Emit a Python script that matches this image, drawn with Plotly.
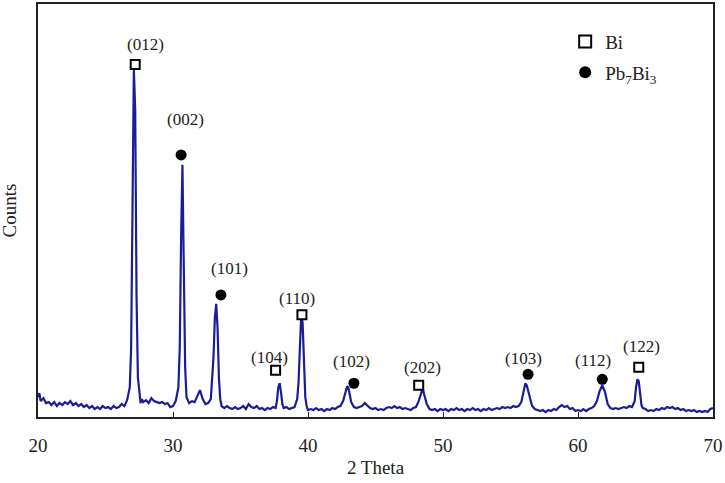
import plotly.graph_objects as go

# ---- XRD pattern (2 Theta, counts) ----
two_theta = [20.0, 20.1, 20.2, 20.4, 20.6, 20.8, 21.0, 21.2, 21.4, 21.6, 21.8, 22.0, 22.2, 22.4, 22.6, 22.8,
             23.0, 23.2, 23.4, 23.6, 23.8, 24.0, 24.2, 24.4, 24.6, 24.8, 25.0, 25.2, 25.4, 25.6, 25.8, 26.0,
             26.2, 26.4, 26.6, 26.8, 26.9, 27.0, 27.1, 27.2, 27.3, 27.4, 27.5, 27.6, 27.7, 27.8, 28.0, 28.2,
             28.4, 28.6, 28.8, 29.0, 29.2, 29.4, 29.6, 29.8, 30.0, 30.2, 30.4, 30.5, 30.6, 30.7, 30.8, 30.9,
             31.0, 31.2, 31.4, 31.6, 31.8, 32.0, 32.2, 32.4, 32.6, 32.8, 33.0, 33.1, 33.2, 33.3, 33.4, 33.5,
             33.6, 33.8, 34.0, 34.2, 34.4, 34.6, 34.8, 35.0, 35.2, 35.4, 35.6, 35.8, 36.0, 36.2, 36.4, 36.6,
             36.8, 37.0, 37.2, 37.4, 37.6, 37.7, 37.8, 37.9, 38.0, 38.1, 38.2, 38.4, 38.6, 38.8, 39.0, 39.2,
             39.3, 39.4, 39.5, 39.6, 39.7, 39.8, 39.9, 40.0, 40.2, 40.4, 40.6, 40.8, 41.0, 41.2, 41.4, 41.6,
             41.8, 42.0, 42.2, 42.4, 42.6, 42.8, 42.9, 43.0, 43.1, 43.2, 43.4, 43.6, 43.8, 44.0, 44.2, 44.4,
             44.6, 44.8, 45.0, 45.2, 45.4, 45.6, 45.8, 46.0, 46.2, 46.4, 46.6, 46.8, 47.0, 47.2, 47.4, 47.6,
             47.8, 48.0, 48.2, 48.4, 48.5, 48.6, 48.8, 49.0, 49.2, 49.4, 49.6, 49.8, 50.0, 50.2, 50.4, 50.6,
             50.8, 51.0, 51.2, 51.4, 51.6, 51.8, 52.0, 52.2, 52.4, 52.6, 52.8, 53.0, 53.2, 53.4, 53.6, 53.8,
             54.0, 54.2, 54.4, 54.6, 54.8, 55.0, 55.2, 55.4, 55.6, 55.8, 56.0, 56.1, 56.2, 56.4, 56.6, 56.8,
             57.0, 57.2, 57.4, 57.6, 57.8, 58.0, 58.2, 58.4, 58.6, 58.8, 59.0, 59.2, 59.4, 59.6, 59.8, 60.0,
             60.2, 60.4, 60.6, 60.8, 61.0, 61.2, 61.4, 61.6, 61.8, 62.0, 62.2, 62.4, 62.6, 62.8, 63.0, 63.2,
             63.4, 63.6, 63.8, 64.0, 64.2, 64.3, 64.4, 64.5, 64.6, 64.7, 64.8, 65.0, 65.2, 65.4, 65.6, 65.8,
             66.0, 66.2, 66.4, 66.6, 66.8, 67.0, 67.2, 67.4, 67.6, 67.8, 68.0, 68.2, 68.4, 68.6, 68.8, 69.0,
             69.2, 69.4, 69.6, 69.8, 70.0]
counts = [200, 240, 160, 190, 140, 150, 120, 150, 110, 140, 120, 150, 130, 160, 120, 140,
          110, 130, 100, 120, 90, 110, 80, 100, 80, 110, 90, 100, 80, 110, 90, 100,
          130, 110, 170, 300, 700, 1800, 3500, 3100, 1200, 400, 220, 140, 180, 150, 170, 140,
          190, 160, 150, 140, 150, 130, 140, 100, 110, 160, 300, 700, 1800, 2540, 1500, 500,
          200, 140, 160, 150, 210, 270, 180, 130, 140, 180, 600, 1000, 1140, 900, 400, 180,
          110, 90, 110, 90, 80, 100, 80, 90, 110, 80, 130, 100, 90, 110, 80, 90,
          70, 90, 80, 100, 90, 160, 300, 340, 250, 130, 90, 100, 80, 90, 100, 180,
          350, 700, 1020, 950, 500, 200, 110, 70, 80, 70, 90, 70, 80, 60, 80, 70,
          90, 80, 100, 110, 160, 260, 310, 290, 230, 150, 100, 90, 100, 110, 140, 110,
          90, 80, 90, 70, 80, 70, 90, 100, 90, 110, 90, 100, 80, 90, 80, 70,
          90, 100, 160, 260, 290, 230, 130, 80, 70, 80, 60, 80, 70, 80, 60, 80,
          70, 90, 70, 80, 60, 80, 70, 90, 70, 80, 60, 80, 70, 90, 70, 80,
          90, 80, 100, 90, 100, 90, 110, 100, 110, 150, 280, 340, 320, 200, 110, 80,
          70, 60, 70, 50, 70, 60, 80, 70, 100, 120, 100, 110, 80, 90, 60, 70,
          60, 80, 60, 80, 90, 110, 160, 260, 320, 250, 130, 90, 80, 90, 80, 90,
          100, 90, 110, 100, 160, 300, 380, 360, 220, 120, 90, 80, 60, 70, 60, 80,
          70, 90, 80, 100, 90, 100, 80, 90, 70, 80, 60, 70, 60, 70, 50, 60,
          50, 60, 50, 80, 90]

# ---- phase markers and Miller indices ----
bi_theta = [27.2, 37.6, 39.55, 48.2, 64.5]
bi_counts = [3550, 470, 1030, 320, 500]
bi_hkl = ["(012)", "(104)", "(110)", "(202)", "(122)"]

pb_theta = [30.6, 33.55, 43.4, 56.3, 61.8]
pb_counts = [2640, 1230, 340, 430, 380]
pb_hkl = ["(002)", "(101)", "(102)", "(103)", "(112)"]

x_ticks = [20, 30, 40, 50, 60, 70]

# label pixel offsets (style only)
bi_off = [(10, 20), (-6, 13), (-5, 16), (4, 18), (3, 21)]
pb_off = [(4, 35), (9, 26), (-2, 22), (-5, 16), (-9, 19)]

FONT = "Liberation Serif"
TXT = "#222"
fig = go.Figure()
fig.add_trace(go.Scatter(x=two_theta, y=counts, mode="lines",
                         line=dict(color="#1c1c96", width=2.2), showlegend=False))
fig.add_trace(go.Scatter(x=bi_theta, y=bi_counts, mode="markers", name="Bi",
                         legendgroup="a",
                         marker=dict(symbol="square", size=9, color="white",
                                     line=dict(color="black", width=2))))
fig.add_trace(go.Scatter(x=pb_theta, y=pb_counts, mode="markers", name="Pb<sub>7</sub>Bi<sub>3</sub>",
                         legendgroup="b",
                         marker=dict(symbol="circle", size=11, color="black",
                                     line=dict(color="black", width=0))))

annots = []
for xs, ys, labels, offs in [(bi_theta, bi_counts, bi_hkl, bi_off), (pb_theta, pb_counts, pb_hkl, pb_off)]:
    for x, y, t, (dx, dy) in zip(xs, ys, labels, offs):
        annots.append(dict(x=x, y=y, text=t, showarrow=False, xshift=dx, yshift=dy,
                           font=dict(family=FONT, size=17, color=TXT)))
annots.append(dict(xref="paper", yref="paper", x=(9 - 38) / 675, y=0.5, text="Counts",
                   textangle=-90, showarrow=False, xanchor="center", yanchor="middle",
                   font=dict(family=FONT, size=19, color=TXT)))

fig.update_layout(
    width=725, height=483,
    margin=dict(l=38, r=12, t=2, b=66),
    paper_bgcolor="white", plot_bgcolor="white",
    annotations=annots,
    legend=dict(x=0.781, y=0.955, xanchor="left", yanchor="top",
                font=dict(family=FONT, size=19, color=TXT), tracegroupgap=3,
                traceorder="grouped",
                bgcolor="rgba(0,0,0,0)", itemsizing="constant"),
    xaxis=dict(range=[20, 70], tickvals=x_ticks, ticks="inside", ticklen=5,
               tickcolor=TXT, showline=True, linecolor=TXT, linewidth=2, mirror=True,
               showgrid=False, zeroline=False, ticklabelstandoff=10,
               tickfont=dict(family=FONT, size=19, color=TXT),
               title=dict(text="2 Theta", font=dict(family=FONT, size=19, color=TXT), standoff=6)),
    yaxis=dict(range=[0, 4160], showticklabels=False, ticks="", showline=True,
               linecolor=TXT, linewidth=2, mirror=True, showgrid=False, zeroline=False),
)

fig.write_html("out.html")
